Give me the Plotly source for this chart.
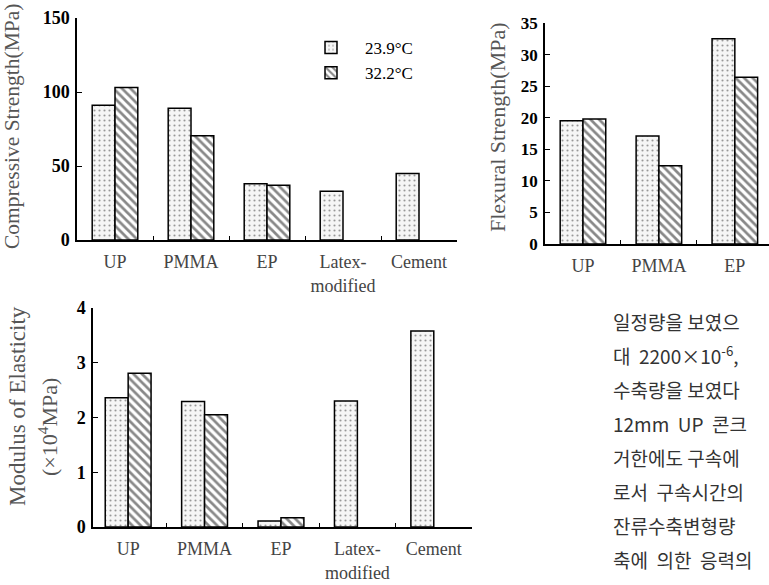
import plotly.graph_objects as go

W, H = 769, 585

# ---- data ----
cats_comp = ["UP", "PMMA", "EP", "Latex-<br>modified", "Cement"]
comp_239 = [91, 89, 38, 33, 45]
comp_322 = [103, 70.5, 37, None, None]

cats_flex = ["UP", "PMMA", "EP"]
flex_239 = [19.5, 17.1, 32.5]
flex_322 = [19.8, 12.4, 26.4]

cats_mod = ["UP", "PMMA", "EP", "Latex-<br>modified", "Cement"]
mod_239 = [2.36, 2.29, 0.11, 2.30, 3.58]
mod_322 = [2.81, 2.05, 0.17, None, None]

legend_names = ["23.9°C", "32.2°C"]

korean_lines = [
    "일정량을 보였으",
    "대  2200×10<sup>-6</sup>,",
    "수축량을 보였다",
    "12mm  UP  콘크",
    "거한에도 구속에",
    "로서  구속시간의",
    "잔류수축변형량",
    "축에  의한  응력의",
]

SERIF = "Liberation Serif, Times New Roman, serif"

dot_pattern = dict(shape=".", fgcolor="#3a3a3a", bgcolor="#f6f6f6", size=5, solidity=0.14)
hatch_pattern = dict(shape="\\", fgcolor="#111111", bgcolor="#ffffff", size=6, solidity=0.45)
bar_line = dict(color="black", width=1.5)


def bars(x, y, name, pat, xa, ya, show):
    return go.Bar(
        x=x, y=y, name=name, xaxis=xa, yaxis=ya, showlegend=show,
        legendgroup=name, offsetgroup=name,
        marker=dict(color="white", pattern=pat, line=bar_line),
    )


fig = go.Figure()
fig.add_trace(bars(cats_comp, comp_239, legend_names[0], dot_pattern, "x", "y", True))
fig.add_trace(bars(cats_comp, comp_322, legend_names[1], hatch_pattern, "x", "y", True))
fig.add_trace(bars(cats_flex, flex_239, legend_names[0], dot_pattern, "x2", "y2", False))
fig.add_trace(bars(cats_flex, flex_322, legend_names[1], hatch_pattern, "x2", "y2", False))
fig.add_trace(bars(cats_mod, mod_239, legend_names[0], dot_pattern, "x3", "y3", False))
fig.add_trace(bars(cats_mod, mod_322, legend_names[1], hatch_pattern, "x3", "y3", False))


def px_x(v):
    return v / W


def px_y(v):
    return 1 - v / H


xcommon = dict(
    showline=True, linecolor="black", linewidth=1.5, ticks="inside", ticklen=4,
    tickcolor="black", tickwidth=1.2, tickson="boundaries", showgrid=False, zeroline=False,
    tickfont=dict(family=SERIF, size=18, color="#444"), ticklabelstandoff=5,
    tickangle=0, fixedrange=True, automargin=False,
)
ycommon = dict(
    showline=True, linecolor="black", linewidth=1.5, ticks="inside", ticklen=5,
    tickcolor="black", tickwidth=1.2, showgrid=False, zeroline=False,
    tickfont=dict(family=SERIF, size=18, color="black", weight="bold"),
    ticklabelstandoff=2, fixedrange=True, automargin=False,
)

fig.update_layout(
    width=W, height=H,
    margin=dict(l=0, r=0, t=0, b=0, autoexpand=False),
    paper_bgcolor="white", plot_bgcolor="rgba(0,0,0,0)",
    barmode="group", bargap=0.4, bargroupgap=0,
    xaxis=dict(xcommon, domain=[px_x(77), px_x(457)], anchor="y", range=[-0.5, 4.5]),
    yaxis=dict(ycommon, domain=[px_y(240), px_y(18)], anchor="x", range=[0, 150],
               tickvals=[0, 50, 100, 150]),
    xaxis2=dict(xcommon, domain=[px_x(545), 1], anchor="y2", range=[-0.5, 2.45]),
    yaxis2=dict(ycommon, domain=[px_y(244), px_y(23)], anchor="x2", range=[0, 35],
                tickvals=[0, 5, 10, 15, 20, 25, 30, 35],
                tickfont=dict(family=SERIF, size=17, color="black", weight="bold")),
    xaxis3=dict(xcommon, domain=[px_x(93), px_x(472)], anchor="y3", range=[-0.46, 4.5]),
    yaxis3=dict(ycommon, domain=[px_y(527), px_y(308)], anchor="x3", range=[0, 4],
                tickvals=[0, 1, 2, 3, 4]),
    legend=dict(
        x=px_x(297), y=px_y(30), xanchor="left", yanchor="top",
        bgcolor="rgba(0,0,0,0)", borderwidth=0,
        font=dict(family=SERIF, size=17, color="black"),
        itemwidth=58, tracegroupgap=0,
    ),
)

title_font = dict(family=SERIF, size=22, color="#555")
annos = [
    dict(text="Compressive Strength(MPa)", x=px_x(12), y=px_y(127), textangle=-90,
         font=dict(title_font, size=21.5)),
    dict(text="Flexural Strength(MPa)", x=px_x(497), y=px_y(127), textangle=-90,
         font=title_font),
    dict(text="Modulus of Elasticity", x=px_x(17), y=px_y(406), textangle=-90,
         font=dict(title_font, size=23)),
    dict(text="(×10<sup>4</sup>MPa)", x=px_x(48), y=px_y(427), textangle=-90,
         font=dict(title_font, size=22)),
]
for a in annos:
    a.update(xref="paper", yref="paper", xanchor="center", yanchor="middle", showarrow=False)
    fig.add_annotation(**a)

for i, line in enumerate(korean_lines):
    fig.add_annotation(
        text=line, x=px_x(611), y=px_y(321 + 34 * i), xref="paper", yref="paper",
        xanchor="left", yanchor="middle", showarrow=False,
        font=dict(family="Noto Sans CJK KR", size=19, color="#333"),
    )

fig.write_html("out.html")
